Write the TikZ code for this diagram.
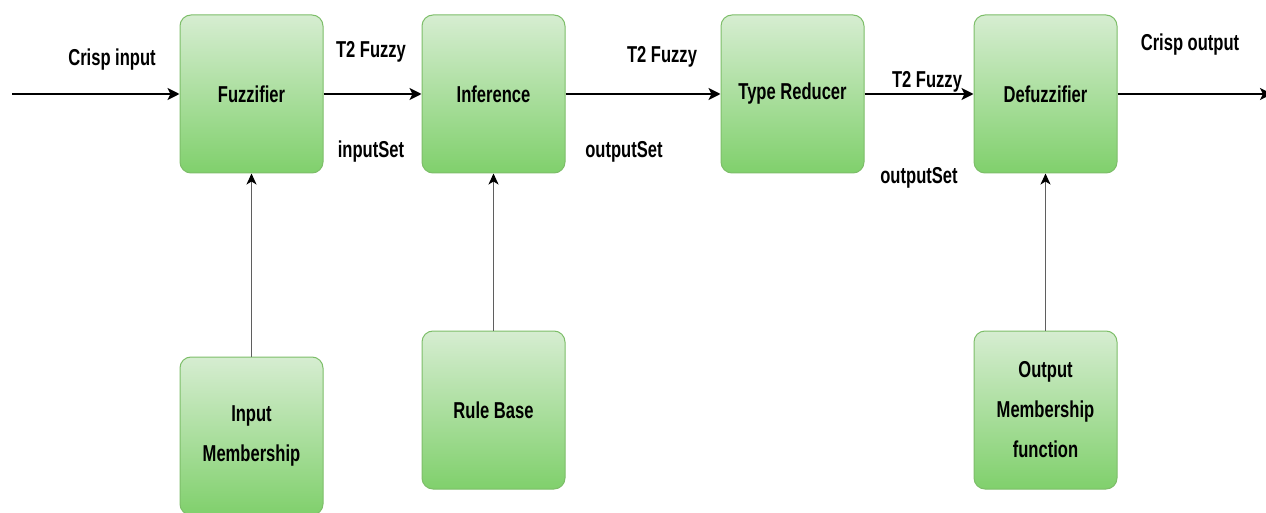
\documentclass[tikz,border=0pt]{standalone}
\usepackage{fontspec}
\usepackage{graphicx}
\setmainfont{Liberation Sans}
\usetikzlibrary{arrows.meta}
\newcommand{\cnd}[1]{\scalebox{0.72}[1]{#1}}
\definecolor{gborder}{RGB}{125,190,105}
\definecolor{gtop}{RGB}{214,237,209}
\definecolor{gbot}{RGB}{128,208,108}
\definecolor{lgray}{RGB}{95,95,95}
\tikzset{
  blk/.style={draw=gborder, line width=1pt, rounded corners=11pt,
    top color=gtop, bottom color=gbot,
    minimum width=143pt, minimum height=158pt, inner sep=0pt,
    font=\bfseries\fontsize{23}{40}\selectfont, align=center},
  lbl/.style={font=\bfseries\fontsize{23}{27}\selectfont, inner sep=0pt},
  mainarrow/.style={line width=2.2pt, -{Stealth[length=12pt,width=12pt,inset=3pt]}},
  sidearrow/.style={draw=lgray, line width=1.5pt, -{Stealth[black,length=11pt,width=10pt,inset=3pt]}}
}
\begin{document}
\begin{tikzpicture}[x=1pt,y=-1pt]
\clip (0,0) rectangle (1266,513);
\fill[white] (0,0) rectangle (1266,513);
% main boxes
\node[blk] (fuz) at (251.5,94) {\cnd{Fuzzifier}};
\node[blk] (inf) at (493.5,94) {\cnd{Inference}};
\node[blk] (tr)  at (792.5,94) {\cnd{Type Reducer}};
\node[blk] (def) at (1045.5,94) {\cnd{Defuzzifier}};
% lower boxes
\node[blk] (inm) at (251.5,436) {\cnd{Input}\\\cnd{Membership}};
\node[blk] (rb)  at (493.5,410) {\cnd{Rule Base}};
\node[blk] (outm) at (1045.5,410) {\cnd{Output}\\\cnd{Membership}\\\cnd{function}};
% free ends
\coordinate (in) at (12,94);
\coordinate (out) at (1272,94);
% main flow
\draw[mainarrow] (in) -- (fuz.west);
\draw[mainarrow] (fuz.east) -- (inf.west);
\draw[mainarrow] (inf.east) -- (tr.west);
\draw[mainarrow] (tr.east) -- (def.west);
\draw[mainarrow] (def.east) -- (out);
% side inputs
\draw[sidearrow] (inm.north) -- (fuz.south);
\draw[sidearrow] (rb.north) -- (inf.south);
\draw[sidearrow] (outm.north) -- (def.south);
% labels
\node[lbl] (l1) at (112,60) {\cnd{Crisp input}};
\node[lbl] (l2) at (371,52) {\cnd{T2 Fuzzy}};
\node[lbl] (l3) at (371,152) {\cnd{inputSet}};
\node[lbl] (l4) at (662,57) {\cnd{T2 Fuzzy}};
\node[lbl] (l5) at (624,152) {\cnd{outputSet}};
\node[lbl] (l6) at (927,82) {\cnd{T2 Fuzzy}};
\node[lbl] (l7) at (919,178) {\cnd{outputSet}};
\node[lbl] (l8) at (1190,45) {\cnd{Crisp output}};
\end{tikzpicture}
\end{document}
